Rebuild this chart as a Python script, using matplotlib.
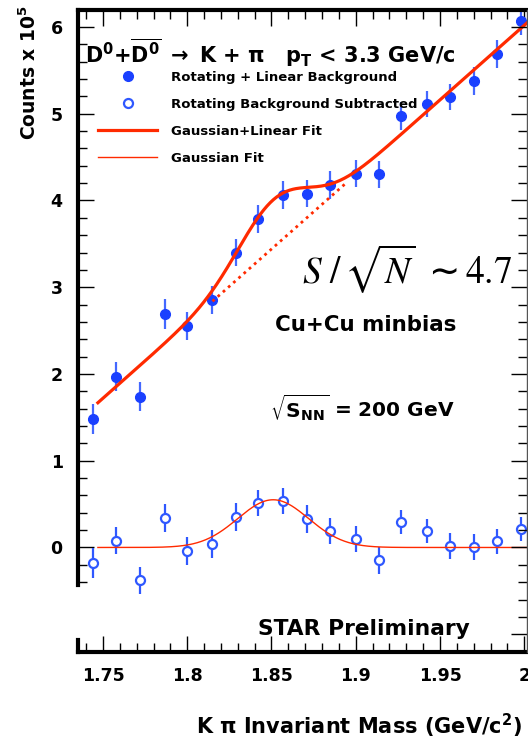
import numpy as np
import matplotlib.pyplot as plt
from matplotlib.lines import Line2D
from matplotlib.ticker import FixedLocator

plt.rcParams['font.family'] = ['DejaVu Sans']
plt.rcParams['mathtext.fontset'] = 'dejavusans'
plt.rcParams['mathtext.default'] = 'regular'

# K pi invariant mass bin centres (GeV/c^2)
mass = [1.744, 1.758, 1.772, 1.787, 1.800, 1.815, 1.829, 1.842, 1.857, 1.871,
        1.885, 1.900, 1.914, 1.927, 1.942, 1.956, 1.970, 1.984, 1.998]
# counts (x 1e5), rotating + linear background
counts_bg = [1.48, 1.97, 1.74, 2.69, 2.55, 2.85, 3.40, 3.79, 4.06, 4.08,
             4.18, 4.31, 4.30, 4.97, 5.11, 5.19, 5.38, 5.69, 6.07]
err_bg = [0.17, 0.17, 0.17, 0.17, 0.16, 0.16, 0.16, 0.16, 0.16, 0.16,
          0.16, 0.16, 0.16, 0.16, 0.15, 0.15, 0.16, 0.16, 0.16]
# counts (x 1e5), rotating background subtracted
counts_sub = [-0.18, 0.08, -0.38, 0.34, -0.04, 0.04, 0.355, 0.51, 0.535, 0.33,
              0.19, 0.095, -0.15, 0.29, 0.19, 0.02, 0.0, 0.07, 0.215]
err_sub = [0.17, 0.16, 0.16, 0.16, 0.16, 0.16, 0.16, 0.15, 0.15, 0.16,
           0.15, 0.15, 0.16, 0.14, 0.14, 0.15, 0.15, 0.14, 0.14]

# fit parameters: p0 + p1*(m - 1.85) + amp*gauss(m; mu, sigma)
p0, p1 = 3.44, 17.2
amp, mu, sigma = 0.55, 1.851, 0.021
fit_lo, fit_hi = 1.747, 2.002
bg_lo, bg_hi = 1.815, 1.895

xticks = [1.75, 1.80, 1.85, 1.90, 1.95, 2.00]
xticklabels = ['1.75', '1.8', '1.85', '1.9', '1.95', '2']
yticks = [0, 1, 2, 3, 4, 5, 6]
yticklabels = ['0', '1', '2', '3', '4', '5', '6']

blue = '#1a40ff'
blue_err = '#4468ff'
blue_open = '#2f58ff'
red = '#ff2a00'

W, H = 528, 739
fig = plt.figure(figsize=(W / 100, H / 100), dpi=100)
ax = fig.add_axes([78 / W, 1 - 652 / H, (527 - 78) / W, (652 - 10) / H])
ax.set_xlim(1.7352, 2.0016)
ax.set_ylim(-1.205, 6.196)


def lin(m):
    return p0 + p1 * (m - 1.85)


def gaus(m):
    return amp * np.exp(-0.5 * ((m - mu) / sigma) ** 2)


# data points
ax.errorbar(mass, counts_bg, yerr=err_bg, fmt='o', ms=7, color=blue,
            ecolor=blue_err, elinewidth=1.6, capsize=0, zorder=2)
ax.errorbar(mass, counts_sub, yerr=err_sub, fmt='o', ms=6.5, mfc='white',
            mec=blue_open, mew=1.6, ecolor=blue_open, elinewidth=1.6,
            capsize=0, zorder=2)

# fits
m = np.linspace(fit_lo, fit_hi, 400)
ax.plot(m, lin(m) + gaus(m), color=red, lw=2.3, zorder=3)
mb = np.linspace(bg_lo, bg_hi, 60)
ax.plot(mb, lin(mb), color=red, lw=2.0, ls=(0, (1, 1.5)), zorder=3)
ax.plot(m, gaus(m), color=red, lw=1.0, zorder=3)

# frame
for s in ['left', 'top', 'bottom']:
    ax.spines[s].set_linewidth(3)
ax.spines['right'].set_visible(False)
ax.spines['left'].set_bounds(-0.43, 6.196)
ax.axvline(1.7352, ymin=0, ymax=(1.205 - 1.07) / 7.401, color='k', lw=3,
           clip_on=False)

ax.set_xticks(xticks, xticklabels, fontweight='bold')
ax.set_yticks(yticks, yticklabels, fontweight='bold')
ax.xaxis.set_minor_locator(FixedLocator(np.round(np.arange(1.74, 2.001, 0.01), 3)))
ax.yaxis.set_minor_locator(FixedLocator(np.round(np.arange(-0.4, 6.2, 0.2), 2)))
ax.tick_params(which='both', direction='in', top=True, right=False,
               width=1.0, labelsize=12.5)
ax.tick_params(which='major', length=11.5)
ax.tick_params(which='minor', length=6.5)
ax.tick_params(axis='x', pad=11)
ax.tick_params(axis='y', pad=11)

ax2 = ax.twinx()
ax2.set_ylim(ax.get_ylim())
for s in ['left', 'top', 'bottom']:
    ax2.spines[s].set_visible(False)
ax2.spines['right'].set_linewidth(1.0)
ax2.spines['right'].set_color('#555555')
ax2.yaxis.set_major_locator(FixedLocator(range(-1, 7)))
ax2.yaxis.set_minor_locator(FixedLocator(np.round(np.arange(-1.2, 6.2, 0.2), 2)))
ax2.tick_params(which='both', direction='in', labelright=False, width=1.0)
ax2.tick_params(which='major', length=11.5)
ax2.tick_params(which='minor', length=6.5)

# legend
handles = [
    Line2D([], [], ls='none', marker='o', ms=7, color=blue),
    Line2D([], [], ls='none', marker='o', ms=6.5, mfc='white', mec=blue_open, mew=1.6),
    Line2D([], [], color=red, lw=2.3),
    Line2D([], [], color=red, lw=1.0),
]
labels = ['Rotating + Linear Background', 'Rotating Background Subtracted',
          'Gaussian+Linear Fit', 'Gaussian Fit']
ax.legend(handles, labels, loc='upper left', bbox_to_anchor=(98 / W, 1 - 71 / H),
          bbox_transform=fig.transFigure, frameon=False,
          prop={'size': 9.5, 'weight': 'bold'},
          handlelength=4.5, handletextpad=1.05, labelspacing=1.05,
          borderpad=0, borderaxespad=0)

# annotations
fig.text(85 / W, 1 - 63 / H,
         r'$D^0$+$\overline{D^0}$ $\rightarrow$ K + $\pi$   p$_T$ < 3.3 GeV/c',
         fontsize=15, fontweight='bold', va='baseline')
fig.text(302 / W, 1 - 283 / H,
         r'$\mathit{S}\ \mathrm{/}\,\sqrt{\mathit{N}}\ \sim \mathrm{4.7}$',
         math_fontfamily='stix', fontsize=27, va='baseline')
fig.text(366 / W, 1 - 331 / H, 'Cu+Cu minbias', fontsize=15.4,
         fontweight='bold', ha='center', va='baseline')
fig.text(362 / W, 1 - 417 / H, r'$\sqrt{S_{NN}}$ = 200 GeV', fontsize=14.5,
         fontweight='bold', ha='center', va='baseline')
fig.text(363.5 / W, 1 - 635 / H, 'STAR Preliminary', fontsize=15.7,
         fontweight='bold', ha='center', va='baseline')
fig.text(358.5 / W, 1 - 734 / H, r'K $\pi$ Invariant Mass (GeV/c$^2$)',
         fontsize=15, fontweight='bold', ha='center', va='baseline')
fig.text(29 / W, 1 - 72 / H, r'Counts x 10$^5$', fontsize=13.5,
         fontweight='bold', rotation=90, ha='center', va='center')

fig.savefig('out.png', dpi=100, facecolor='white')
